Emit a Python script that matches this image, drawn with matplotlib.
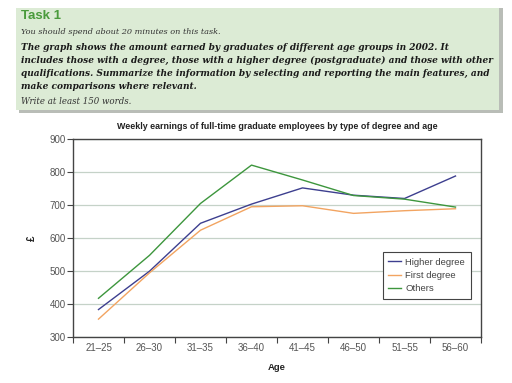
import matplotlib.pyplot as plt
from matplotlib.patches import Rectangle

ages = ['21\u201325', '26\u201330', '31\u201335', '36\u201340', '41\u201345', '46\u201350', '51\u201355', '56\u201360']
higher = [384, 500, 645, 703, 752, 730, 720, 788]
first = [355, 495, 624, 695, 698, 675, 683, 689]
others = [418, 548, 705, 821, 776, 729, 718, 694]

W, H = 512, 383
fig = plt.figure(figsize=(W / 100, H / 100), dpi=100)
fig.patch.set_facecolor('white')
sans = 'Liberation Sans'

# task box with shadow
def fx(px):
    return px / W

def fy(py):
    return 1 - py / H

fig.patches.append(Rectangle((fx(19), fy(113)), fx(484), 105 / H, transform=fig.transFigure,
                             facecolor='#b9bdb7', edgecolor='none', zorder=0))
fig.patches.append(Rectangle((fx(16), fy(110)), fx(483), 102 / H, transform=fig.transFigure,
                             facecolor='#dcebd5', edgecolor='none', zorder=1))

fig.text(fx(21), fy(16), 'Task 1', color='#4a9b3c', fontsize=9.5, fontweight='bold',
         family=sans, va='center')
serif = 'DejaVu Serif'
fig.text(fx(21), fy(32), 'You should spend about 20 minutes on this task.', fontsize=5.9,
         style='italic', family=serif, color='#333333', va='center')
bold_lines = [
    'The graph shows the amount earned by graduates of different age groups in 2002. It',
    'includes those with a degree, those with a higher degree (postgraduate) and those with other',
    'qualifications. Summarize the information by selecting and reporting the main features, and',
    'make comparisons where relevant.',
]
for i, line in enumerate(bold_lines):
    fig.text(fx(21), fy(47 + 13.2 * i), line, fontsize=6.45, style='italic', fontweight='bold',
             family=serif, color='#1a1a1a', va='center')
fig.text(fx(21), fy(101), 'Write at least 150 words.', fontsize=6.2, style='italic',
         family=serif, color='#333333', va='center')

# chart
ax = fig.add_axes([fx(73), fy(337.3), (481 - 73) / W, (337.3 - 139) / H])
x = list(range(len(ages)))
ax.plot(x, higher, color='#3d3f8f', lw=1, label='Higher degree')
ax.plot(x, first, color='#f2a461', lw=1, label='First degree')
ax.plot(x, others, color='#3d963d', lw=1, label='Others')

ax.set_xlim(-0.5, 7.5)
ax.set_ylim(300, 900)
ax.set_yticks(range(300, 901, 100))
ax.set_xticks(x)
ax.set_xticklabels(ages, family=sans)
ax.set_yticklabels([str(v) for v in range(300, 901, 100)], family=sans)
ax.set_xticks([k + 0.5 for k in range(-1, 8)], minor=True)
ax.tick_params(axis='x', which='major', length=0, pad=4, labelsize=7, labelcolor='#555555')
ax.tick_params(axis='x', which='minor', length=4, color='#444444', width=0.8)
ax.tick_params(axis='y', length=4, color='#444444', width=0.8, labelsize=7,
               labelcolor='#555555', pad=1)
ax.grid(axis='y', color='#c5d2c8', lw=0.9)
ax.set_axisbelow(True)
for s in ax.spines.values():
    s.set_color('#444444')
    s.set_linewidth(1)

ax.set_title('Weekly earnings of full-time graduate employees by type of degree and age',
             fontsize=6.4, fontweight='bold', color='#222222', pad=7, family=sans)
ax.set_xlabel('Age', fontsize=6.8, fontweight='bold', color='#222222', labelpad=7, family=sans)
ax.set_ylabel('\u00a3', fontsize=7, fontweight='bold', color='#222222', labelpad=9, family=sans)

leg = ax.legend(loc='upper right', bbox_to_anchor=(0.975, 0.43),
                fancybox=False, edgecolor='#444444', handlelength=1.3, borderpad=0.6,
                labelspacing=0.45, handletextpad=0.5, borderaxespad=0, framealpha=1,
                prop={'family': sans, 'size': 6.8})
leg.get_frame().set_linewidth(0.8)
for t in leg.get_texts():
    t.set_color('#444444')

fig.savefig('out.png', dpi=100)
